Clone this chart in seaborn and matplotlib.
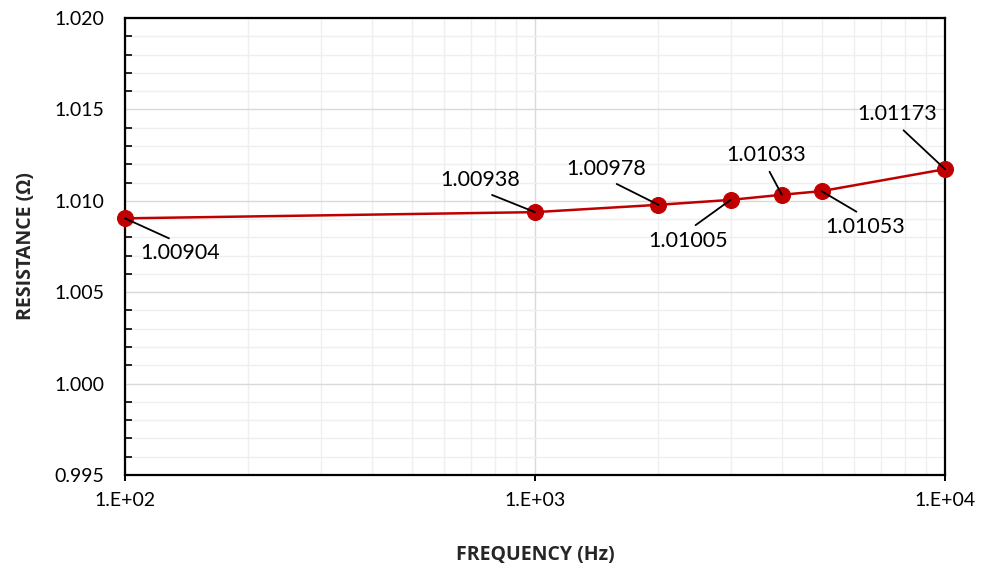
import matplotlib
matplotlib.use("Agg")
import matplotlib.pyplot as plt
import matplotlib.ticker as mticker
import seaborn as sns
import pandas as pd

frequency_hz = [100, 1000, 2000, 3000, 4000, 5000, 10000]
resistance_ohm = [1.00904, 1.00938, 1.00978, 1.01005, 1.01033, 1.01053, 1.01173]
point_labels = ["1.00904", "1.00938", "1.00978", "1.01005", "1.01033", "1.01053", "1.01173"]
x_tick_values = [100, 1000, 10000]
x_tick_labels = ["1.E+02", "1.E+03", "1.E+04"]
y_tick_values = [0.995, 1.000, 1.005, 1.010, 1.015, 1.020]
y_tick_labels = ["0.995", "1.000", "1.005", "1.010", "1.015", "1.020"]

# label offsets (pixels) from each point
label_offsets = [(55, -35), (-55, 32), (-52, 36), (-43, -41), (-16, 40), (44, -36), (-48, 55)]

sns.set_theme(style="white")
plt.rcParams["font.family"] = ["Lato", "DejaVu Sans"]

df = pd.DataFrame({"freq": frequency_hz, "res": resistance_ohm})

fig = plt.figure(figsize=(9.84, 5.71), dpi=100)
ax = fig.add_axes([125 / 984, 1 - 475 / 571, (945 - 125) / 984, (475 - 18) / 571])

red = "#C00000"
sns.lineplot(data=df, x="freq", y="res", ax=ax, color=red, linewidth=1.8,
             marker="o", markersize=11.5, markeredgecolor=red, markerfacecolor=red,
             zorder=4, clip_on=False)

ax.set_xscale("log")
ax.set_xlim(100, 10000)
ax.set_ylim(0.995, 1.020)

ax.xaxis.set_major_locator(mticker.FixedLocator(x_tick_values))
ax.xaxis.set_major_formatter(mticker.FixedFormatter(x_tick_labels))
ax.xaxis.set_minor_locator(mticker.LogLocator(base=10, subs=range(2, 10)))
ax.xaxis.set_minor_formatter(mticker.NullFormatter())
ax.yaxis.set_major_locator(mticker.FixedLocator(y_tick_values))
ax.yaxis.set_major_formatter(mticker.FixedFormatter(y_tick_labels))
ax.yaxis.set_minor_locator(mticker.MultipleLocator(0.001))

ax.grid(which="major", color="#d9d9d9", linewidth=1.0, zorder=0)
ax.grid(which="minor", color="#efefef", linewidth=1.0, zorder=0)
ax.set_axisbelow(True)

for s in ax.spines.values():
    s.set_color("black")
    s.set_linewidth(1.6)
    s.set_visible(True)

ax.tick_params(axis="y", which="major", direction="out", length=7, width=1.4,
               labelsize=14, colors="black", pad=8)
ax.tick_params(axis="y", which="minor", direction="in", length=5, width=1.2, left=True,
               colors="black")
ax.tick_params(axis="x", which="major", direction="out", length=4, width=1.4,
               labelsize=14, colors="black", pad=8, bottom=True)
ax.tick_params(axis="x", which="minor", length=0, bottom=False)

ax.set_xlabel("FREQUENCY (Hz)", fontsize=14, fontweight="bold", labelpad=26,
              family=["Open Sans", "DejaVu Sans"])
ax.set_ylabel("RESISTANCE (\u03a9)", fontsize=14, fontweight="bold", labelpad=13,
              family=["Open Sans", "DejaVu Sans"])

for xv, yv, lab, (dx, dy) in zip(frequency_hz, resistance_ohm, point_labels, label_offsets):
    rel = (0.5, 0.0) if dy > 0 else (0.5, 1.0)
    ax.annotate(lab, xy=(xv, yv), xytext=(dx, dy), textcoords="offset pixels",
                ha="center", va="center", fontsize=15.5, color="black",
                arrowprops=dict(arrowstyle="-", color="black", lw=1.3,
                                shrinkA=3, shrinkB=0, relpos=rel),
                zorder=5, annotation_clip=False)

fig.savefig("out.png", dpi=100)
